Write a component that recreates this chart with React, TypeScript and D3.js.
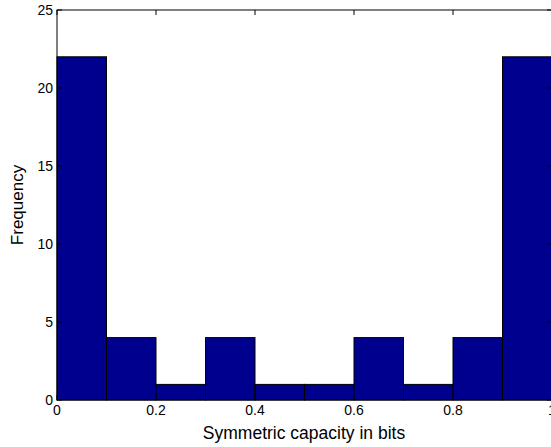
import React, { useEffect, useRef } from 'react';
import * as d3 from 'd3';

const binStarts = [0, 0.1, 0.2, 0.3, 0.4, 0.5, 0.6, 0.7, 0.8, 0.9];
const counts = [22, 4, 1, 4, 1, 1, 4, 1, 4, 22];
const xTicks = [0, 0.2, 0.4, 0.6, 0.8, 1];
const yTicks = [0, 5, 10, 15, 20, 25];

const App = () => {
  const svgRef = useRef<SVGSVGElement>(null);

  useEffect(() => {
    const width = 551;
    const height = 447;
    const margin = { left: 57, top: 10, right: -1, bottom: 47 };
    const font = 'Liberation Sans, Arial, Helvetica, sans-serif';

    const svg = d3.select(svgRef.current)
      .attr('width', width)
      .attr('height', height);
    svg.selectAll('*').remove();

    const x = d3.scaleLinear().domain([0, 1]).range([margin.left, width - margin.right]);
    const y = d3.scaleLinear().domain([0, 25]).range([height - margin.bottom, margin.top]);

    svg.append('rect')
      .attr('width', width)
      .attr('height', height)
      .attr('fill', 'white');

    // bars
    svg.selectAll('rect.bar')
      .data(binStarts)
      .enter()
      .append('rect')
      .attr('class', 'bar')
      .attr('x', d => x(d))
      .attr('y', (d, i) => y(counts[i]))
      .attr('width', d => x(d + 0.1) - x(d))
      .attr('height', (d, i) => y(0) - y(counts[i]))
      .attr('fill', '#00008F')
      .attr('stroke', 'black')
      .attr('stroke-width', 1);

    // axes box
    svg.append('rect')
      .attr('x', x(0))
      .attr('y', y(25))
      .attr('width', x(1) - x(0))
      .attr('height', y(0) - y(25))
      .attr('fill', 'none')
      .attr('stroke', 'black')
      .attr('stroke-width', 1);

    const tickLen = 5;
    const g = svg.append('g').attr('stroke', 'black').attr('stroke-width', 1);

    xTicks.forEach(t => {
      g.append('line')
        .attr('x1', x(t)).attr('x2', x(t))
        .attr('y1', y(0)).attr('y2', y(0) - tickLen);
      g.append('line')
        .attr('x1', x(t)).attr('x2', x(t))
        .attr('y1', y(25)).attr('y2', y(25) + tickLen);
    });
    yTicks.forEach(t => {
      g.append('line')
        .attr('x1', x(0)).attr('x2', x(0) + tickLen)
        .attr('y1', y(t)).attr('y2', y(t));
      g.append('line')
        .attr('x1', x(1)).attr('x2', x(1) - tickLen)
        .attr('y1', y(t)).attr('y2', y(t));
    });

    // tick labels
    svg.selectAll('text.xt')
      .data(xTicks)
      .enter()
      .append('text')
      .attr('class', 'xt')
      .attr('x', d => x(d))
      .attr('y', y(0) + 15)
      .attr('text-anchor', 'middle')
      .attr('font-family', font)
      .attr('font-size', 14)
      .text(d => String(d));

    svg.selectAll('text.yt')
      .data(yTicks)
      .enter()
      .append('text')
      .attr('class', 'yt')
      .attr('x', x(0) - 4)
      .attr('y', d => y(d) + 5)
      .attr('text-anchor', 'end')
      .attr('font-family', font)
      .attr('font-size', 14)
      .text(d => String(d));

    // axis titles
    svg.append('text')
      .attr('x', 304)
      .attr('y', 439)
      .attr('text-anchor', 'middle')
      .attr('font-family', font)
      .attr('font-size', 17.5)
      .text('Symmetric capacity in bits');

    svg.append('text')
      .attr('transform', `translate(23, ${(y(0) + y(25)) / 2}) rotate(-90)`)
      .attr('text-anchor', 'middle')
      .attr('font-family', font)
      .attr('font-size', 17)
      .text('Frequency');
  }, []);

  return (
    <div style={{ position: 'absolute', left: 0, top: 0 }}>
      <svg ref={svgRef} style={{ display: 'block' }}></svg>
    </div>
  );
};

export default App;
